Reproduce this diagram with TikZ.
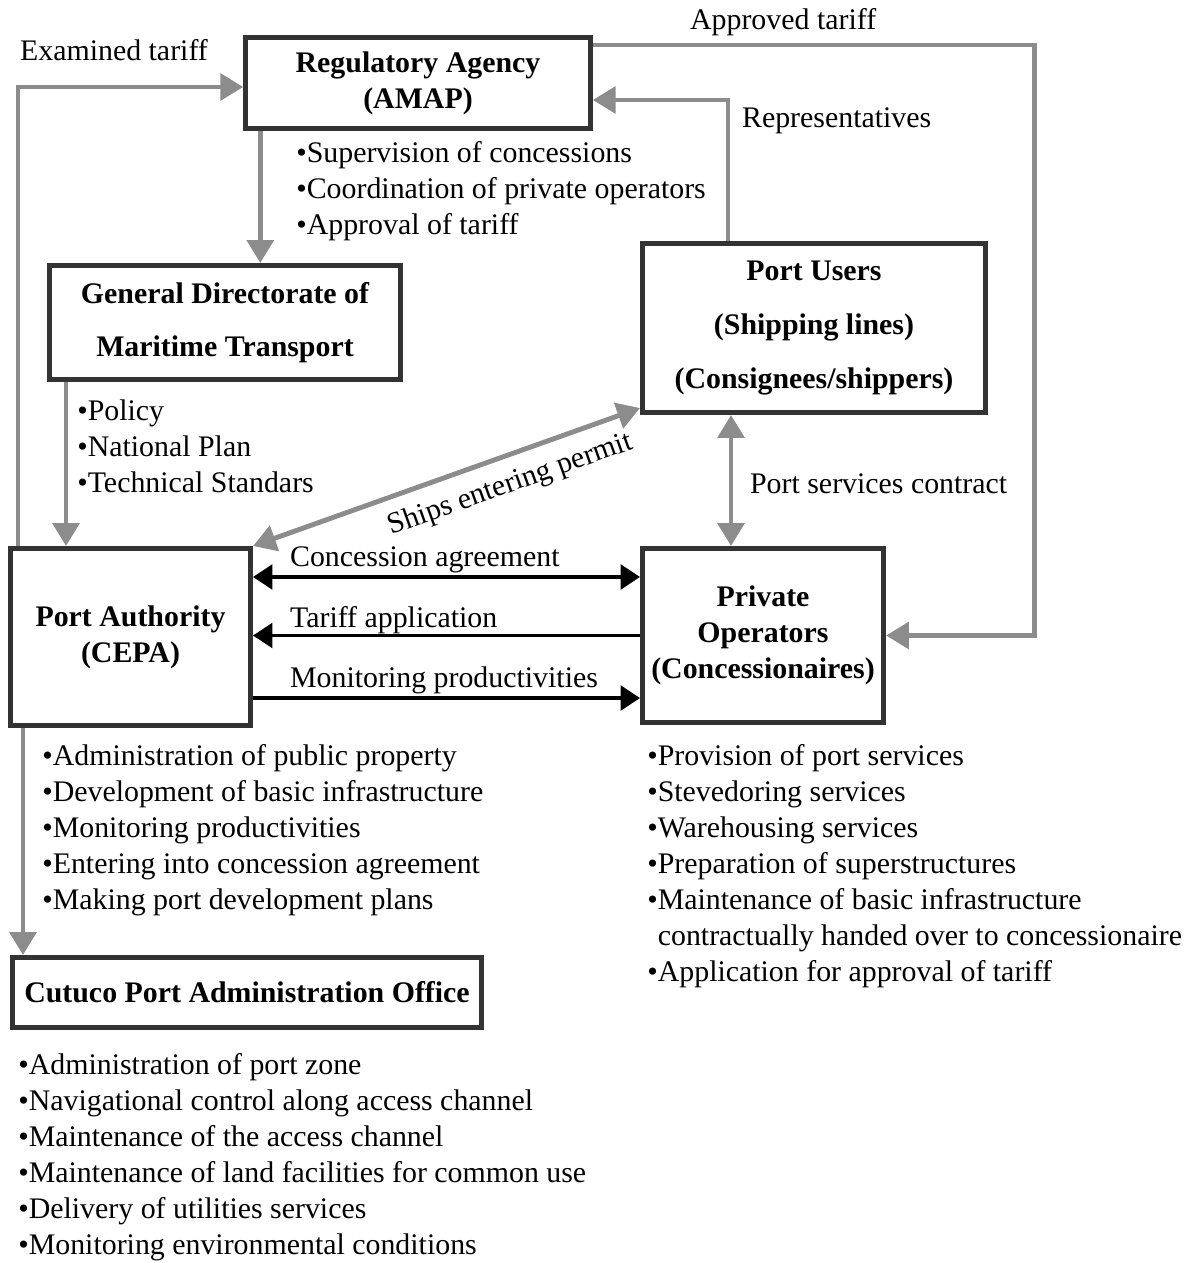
\documentclass[tikz,border=0pt]{standalone}
\usepackage{fontspec}
\setmainfont{Liberation Serif}
\usetikzlibrary{arrows.meta, calc}
\definecolor{boxgray}{HTML}{333333}
\definecolor{linegray}{HTML}{8C8C8C}

\begin{document}
\begin{tikzpicture}[
  x=0.02cm, y=-0.02cm,
  font=\fontsize{17}{20.5}\selectfont,
  unit/.style={rectangle, draw=boxgray, line width=2.6pt, align=center, inner sep=2pt, font=\fontsize{17}{20.5}\selectfont\bfseries},
  duties/.style={anchor=north west, align=left, inner sep=0pt},
  tag/.style={anchor=west, inner sep=1pt},
  flow/.style={->, >={Triangle[length=13pt, width=15pt]}, line width=2.8pt, draw=linegray},
  link/.style={->, >={Triangle[length=11pt, width=14pt]}, line width=2pt, draw=black}
]
  \useasboundingbox (0,0) rectangle (1200,1263);

  % Agencies
  \node[unit, minimum width=6.9cm, minimum height=1.83cm] (ra) at (418,83) {Regulatory Agency\\(AMAP)};
  \node[unit, minimum width=7.03cm, minimum height=2.29cm] (gd) at (225,322.5) {General Directorate of\\[10pt]Maritime Transport};
  \node[unit, minimum width=6.87cm, minimum height=3.39cm] (pu) at (814,328) {Port Users\\[10pt](Shipping lines)\\[10pt](Consignees/shippers)};
  \node[unit, minimum width=4.81cm, minimum height=3.55cm] (pa) at (130.5,637) {Port Authority\\(CEPA)};
  \node[unit, minimum width=4.83cm, minimum height=3.49cm] (po) at (763,635.5) {Private\\Operators\\(Concessionaires)};
  \node[unit, minimum width=9.39cm, minimum height=1.41cm] (cu) at (247,992.5) {Cutuco Port Administration Office};

  % Duties
  \node[duties] (ralist) at (296,141) {•Supervision of concessions\\•Coordination of private operators\\•Approval of tariff};
  \node[duties] (gdlist) at (77,399) {•Policy\\•National Plan\\•Technical Standars};
  \node[duties] (palist) at (42,744) {•Administration of public property\\•Development of basic infrastructure\\•Monitoring productivities\\•Entering into concession agreement\\•Making port development plans};
  \node[duties] (polist) at (647,744) {•Provision of port services\\•Stevedoring services\\•Warehousing services\\•Preparation of superstructures\\•Maintenance of basic infrastructure\\\phantom{•}contractually handed over to concessionaire\\•Application for approval of tariff};
  \node[duties] (culist) at (18,1053) {•Administration of port zone\\•Navigational control along access channel\\•Maintenance of the access channel\\•Maintenance of land facilities for common use\\•Delivery of utilities services\\•Monitoring environmental conditions};

  % Gray flows
  \draw[flow] ($(pa.north west)+(10,0)$) |- ($(ra.west)+(0,4)$);
  \draw[flow] ($(ra.south west)+(17,0)$) -- ($(ra.south west |- gd.north)+(17,0)$);
  \draw[flow] ($(gd.south west)+(19,0)$) -- ($(gd.south west |- pa.north)+(19,0)$);
  \draw[flow] ($(ra.north east)+(0,10)$) -- ++(442,0) |- (po.east);
  \draw[flow] ($(pu.north west)+(88,0)$) |- ($(ra.east)+(0,17)$);
  \draw[flow, <->] (pa.north east) -- ($(pu.south west)+(0,-7)$)
    node[sloped, pos=0.64, below=4pt] (lship) {Ships entering permit};
  \draw[flow, <->] ($(pu.south west)+(91,0)$) -- ($(pu.south west |- po.north)+(91,0)$);
  \draw[flow] ($(pa.south west)+(15,0)$) -- ($(pa.south west |- cu.north)+(15,0)$);

  % Black links
  \draw[link, <->] ($(pa.north east)+(0,31)$) -- ($(pa.north east -| po.west)+(0,31)$);
  \draw[link] (po.west) -- (po.west -| pa.east);
  \draw[link] ($(pa.south east)+(0,-30)$) -- ($(pa.south east -| po.west)+(0,-30)$);

  % Labels
  \node[tag] (lexam) at (18,50) {Examined tariff};
  \node[tag] (lappr) at (688,22) {Approved tariff};
  \node[tag] (lrep) at (740,121) {Representatives};
  \node[tag] (lpsc) at (748,484) {Port services contract};
  \node[tag] (lconc) at (288,560) {Concession agreement};
  \node[tag] (ltar) at (288,620) {Tariff application};
  \node[tag] (lmon) at (288,680) {Monitoring productivities};
\end{tikzpicture}
\end{document}
